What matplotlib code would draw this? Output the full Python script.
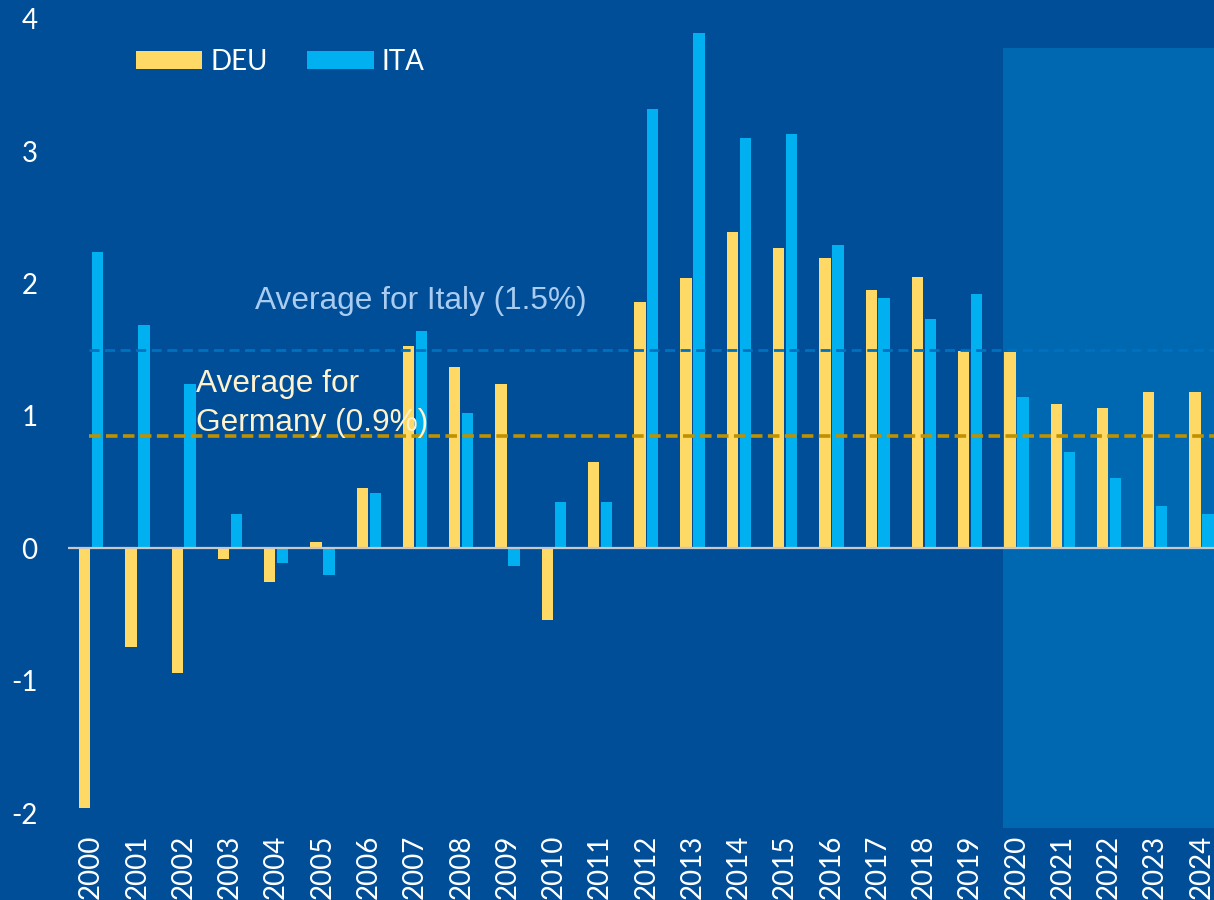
import matplotlib
matplotlib.use("Agg")
import matplotlib.pyplot as plt
from matplotlib.patches import Rectangle
import numpy as np

years = [str(y) for y in range(2000, 2025)]
deu = [-1.96, -0.74, -0.94, -0.08, -0.25, 0.05, 0.46, 1.53, 1.37, 1.24,
       -0.54, 0.65, 1.86, 2.04, 2.39, 2.27, 2.19, 1.95, 2.05, 1.49,
       1.48, 1.09, 1.06, 1.18, 1.18]
ita = [2.24, 1.69, 1.24, 0.26, -0.11, -0.20, 0.42, 1.64, 1.02, -0.13,
       0.35, 0.35, 3.32, 3.89, 3.10, 3.13, 2.29, 1.89, 1.73, 1.92,
       1.14, 0.73, 0.53, 0.32, 0.26]
avg_ita = 1.5
avg_deu = 0.85
yticks = [-2, -1, 0, 1, 2, 3, 4]
ytick_labels = ["-2", "-1", "0", "1", "2", "3", "4"]

BG = "#004E98"
SHADE = "#0068B0"
YEL = "#FFD966"
BLU = "#00B0F0"

fig = plt.figure(figsize=(12.14, 9), dpi=100, facecolor=BG)
ax = fig.add_axes([68 / 1214, 1 - 828 / 900, 1 - 68 / 1214, 828 / 900])
ax.set_facecolor(BG)

x = np.arange(len(years))
w = 0.245
off = 0.14

ax.add_patch(Rectangle((19.71, -2.11), 10, 3.78 + 2.11, facecolor=SHADE,
                       edgecolor="none", zorder=0))

ax.bar(x - off, deu, width=w, color=YEL, label="DEU", zorder=2)
ax.bar(x + off, ita, width=w, color=BLU, label="ITA", zorder=2)

ax.axhline(0, color="#C8C8C8", lw=1.6, zorder=3)

ax.plot([-0.05, 25], [avg_ita, avg_ita], color="#0070C0", lw=2.0,
        dashes=(3.6, 2.0), zorder=4)
ax.plot([-0.05, 25], [avg_deu, avg_deu], color="#BF9000", lw=2.6,
        dashes=(3.2, 1.5), zorder=4)

ax.text(3.55, 1.81, "Average for Italy (1.5%)", color="#A9CCF0",
        fontsize=22.8, family="Liberation Sans", ha="left", va="baseline", zorder=5)
ax.text(2.26, 1.18, "Average for", color="#FFF2CC",
        fontsize=22.8, family="Liberation Sans", ha="left", va="baseline", zorder=5)
ax.text(2.26, 0.89, "Germany (0.9%)", color="#FFF2CC",
        fontsize=22.8, family="Liberation Sans", ha="left", va="baseline", zorder=5)

ax.set_xlim(-0.5, 24.27)
ax.set_ylim(-2.11, 4.14)
ax.set_xticks(x)
ax.set_xticklabels(years, rotation=90, family="Lato", fontsize=20, color="white")
ax.set_yticks(yticks)
ax.set_yticklabels(ytick_labels, family="Lato", fontsize=20, color="white")
ax.tick_params(axis="x", length=0, pad=5)
ax.tick_params(axis="y", length=0, pad=22)
for s in ax.spines.values():
    s.set_visible(False)

leg = ax.legend(loc="upper left", bbox_to_anchor=(0.059, 0.941), ncol=2,
                frameon=False, prop={"family": "Lato", "size": 20},
                handlelength=2.4, handleheight=0.6, handletextpad=0.3,
                columnspacing=1.4, borderpad=0, borderaxespad=0)
for t in leg.get_texts():
    t.set_color("white")

fig.savefig("out.png", dpi=100, facecolor=BG)
